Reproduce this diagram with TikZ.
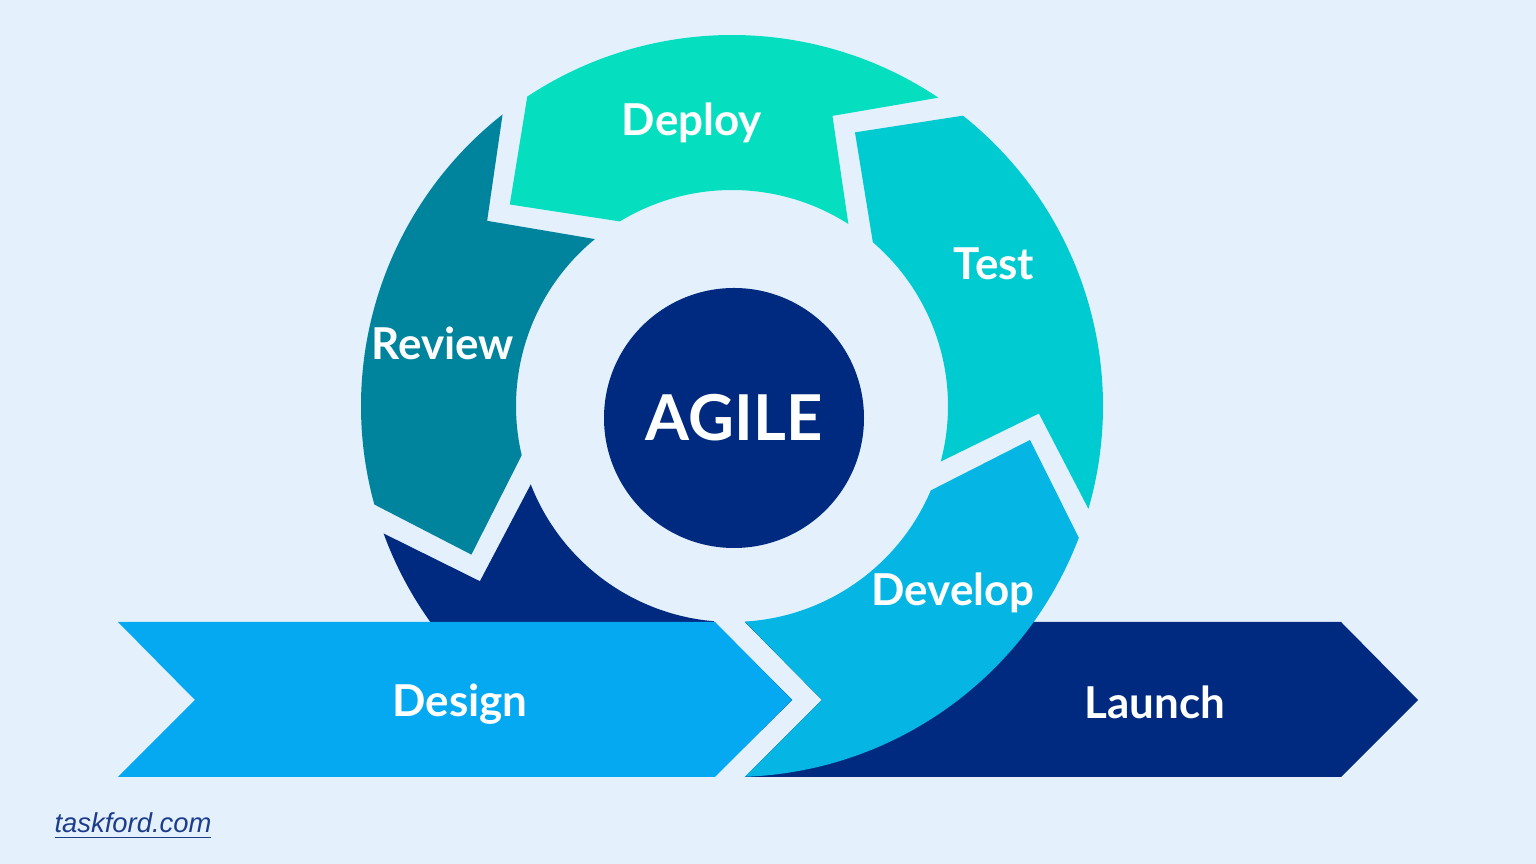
\documentclass[tikz,border=0pt]{standalone}
\usepackage{fontspec}
\setmainfont{Lato}
\newfontfamily\linkfont{Liberation Sans}
\usetikzlibrary{positioning}

\definecolor{pagebg}{HTML}{E4F1FD}
\definecolor{navy}{HTML}{002A7F}
\definecolor{deploycol}{HTML}{05DFBF}
\definecolor{testcol}{HTML}{00CBD1}
\definecolor{developcol}{HTML}{05B6E5}
\definecolor{reviewcol}{HTML}{00849E}
\definecolor{designcol}{HTML}{05A9F1}
\definecolor{linkcol}{HTML}{1E3C8C}

\begin{document}
\begin{tikzpicture}[
    seglabel/.style={text=white, font=\bfseries\fontsize{12.5}{14}\selectfont},
    hub/.style={circle, fill=navy, minimum size=2.6cm, inner sep=0pt, text=white, font=\bfseries\fontsize{18}{20}\selectfont},
    sitelink/.style={text=linkcol, font=\linkfont\itshape\fontsize{7.8}{9}\selectfont}
  ]
    \fill[pagebg] (-7.32,-4.58) rectangle (8.04,4.06);
    \useasboundingbox (-7.32,-4.58) rectangle (8.04,4.06);

    % launch chevron, under the cycle
    \fill[navy] (0.13,-2.16) -- (6.09,-2.16) -- (6.86,-2.94) -- (6.09,-3.71) -- (0.13,-3.71) -- (0.90,-2.94) -- cycle;

    % cycle segments
    \fill[navy] (201.3:2.16) arc[start angle=201.3, end angle=265.1, radius=2.16] -- (281.6:3) -- (267.3:3.71) arc[start angle=267.3, end angle=200.1, radius=3.71] -- (214.8:3.07) -- cycle;
    \fill[reviewcol] (129.4:2.16) arc[start angle=129.4, end angle=193.2, radius=2.16] -- (209.7:3) -- (195.4:3.71) arc[start angle=195.4, end angle=128.2, radius=3.71] -- (142.9:3.07) -- cycle;
    \fill[deploycol] (57.4:2.16) arc[start angle=57.4, end angle=121.3, radius=2.16] -- (137.8:3) -- (123.5:3.71) arc[start angle=123.5, end angle=56.2, radius=3.71] -- (70.9:3.07) -- cycle;
    \fill[testcol] (-14.9:2.16) arc[start angle=-14.9, end angle=49.3, radius=2.16] -- (65.8:3) -- (51.5:3.71) arc[start angle=51.5, end angle=-16.1, radius=3.71] -- (-1.4:3.07) -- cycle;
    \fill[developcol] (-86.6:2.16) arc[start angle=-86.6, end angle=-23.0, radius=2.16] -- (-6.5:3) -- (-20.8:3.71) arc[start angle=-20.8, end angle=-88.0, radius=3.71] -- (0.90,-2.94) -- cycle;

    % design chevron, over the cycle
    \fill[designcol] (-6.14,-2.16) -- (-0.17,-2.16) -- (0.60,-2.94) -- (-0.17,-3.71) -- (-6.14,-3.71) -- (-5.37,-2.94) -- cycle;

    \node[hub] (agile) at (0.02,-0.12) {AGILE};

    \node[seglabel] (deploy) at (-0.40,2.83) {Deploy};
    \node[seglabel] (test) at (2.62,1.42) {Test};
    \node[seglabel] (review) at (-2.89,0.63) {Review};
    \node[seglabel] (develop) at (2.21,-1.87) {Develop};
    \node[seglabel] (design) at (-2.72,-2.98) {Design};
    \node[seglabel] (launch) at (4.23,-2.96) {Launch};

    \node[sitelink] (site) at (-5.99,-4.20) {\underline{taskford.com}};
  \end{tikzpicture}
\end{document}
